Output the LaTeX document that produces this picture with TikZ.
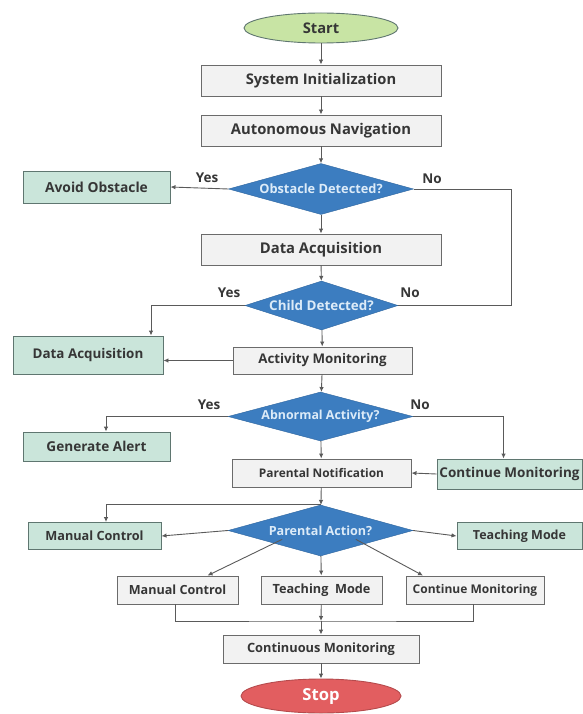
\documentclass[tikz,border=0pt]{standalone}
\usepackage{fontspec}
\setmainfont{Open Sans}
\usetikzlibrary{shapes.geometric,arrows.meta}

\definecolor{boxgray}{HTML}{F2F2F2}
\definecolor{edgegray}{HTML}{6B6B6B}
\definecolor{boxgreen}{HTML}{CAE5DA}
\definecolor{edgegreen}{HTML}{5F7670}
\definecolor{decblue}{HTML}{3C7DC0}
\definecolor{edgeblue}{HTML}{2E659E}
\definecolor{declight}{HTML}{DCEBF8}
\definecolor{startgreen}{HTML}{C8E4A4}
\definecolor{stopred}{HTML}{E25E60}
\definecolor{txtgray}{HTML}{363636}
\definecolor{linegray}{HTML}{5A5A5A}

\newcommand\boxfont[1]{\fontsize{#1}{#1}\selectfont\bfseries}

\tikzset{
  procbox/.style={draw=edgegray, fill=boxgray, line width=0.9pt, inner sep=0pt,
    minimum width=#1, text=txtgray},
  greenbox/.style={procbox=#1, draw=edgegreen, fill=boxgreen},
  decision/.style={diamond, aspect=3.6, draw=edgeblue, fill=decblue, inner sep=0pt,
    minimum width=#1, text=declight},
  terminal/.style={ellipse, inner sep=0pt, line width=0.9pt},
  answer/.style={font=\boxfont{13.5}, text=txtgray},
  arr/.style={draw=linegray, line width=0.9pt, -{Latex[length=5pt,width=4.5pt]}},
  line/.style={draw=linegray, line width=0.9pt}
}

\begin{document}
\begin{tikzpicture}[x=1pt,y=-1pt]
\useasboundingbox (0,0) rectangle (582,714);

\node[terminal, draw=edgegreen, fill=startgreen, text=txtgray, minimum width=154pt, minimum height=30pt, font=\boxfont{14.7}] (start) at (321,28) {Start};
\node[procbox=240pt, minimum height=31pt, font=\boxfont{14.7}] (init) at (321,80.5) {System Initialization};
\node[procbox=240pt, minimum height=31pt, font=\boxfont{14.8}] (nav) at (321,130.5) {Autonomous Navigation};
\node[decision=185pt, minimum height=51pt, font=\boxfont{12.8}] (obst) at (321,189) {Obstacle Detected?};
\node[greenbox=147pt, minimum height=32pt, font=\boxfont{13.8}] (avoid) at (96.5,187) {Avoid Obstacle};
\node[procbox=240pt, minimum height=31pt, font=\boxfont{14.8}] (daq) at (321,249.5) {Data Acquisition};
\node[decision=153pt, minimum height=49pt, font=\boxfont{13.4}] (child) at (321.5,305.5) {Child Detected?};
\node[greenbox=150pt, minimum height=38pt, font=\boxfont{13.4}] (daqg) at (88,355) {Data Acquisition};
\node[procbox=179pt, minimum height=27pt, font=\boxfont{13.3}] (act) at (322.5,360.5) {Activity Monitoring};
\node[decision=185pt, minimum height=49pt, font=\boxfont{12.4}] (abn) at (320.5,416.5) {Abnormal Activity?};
\node[greenbox=147pt, minimum height=29pt, font=\boxfont{13.6}] (alert) at (96.5,446.5) {Generate Alert};
\node[procbox=179pt, minimum height=28pt, font=\boxfont{11.9}] (notif) at (321.5,473) {Parental Notification};
\node[greenbox=145pt, minimum height=30pt, font=\boxfont{13.5}] (cont) at (509.5,474) {Continue Monitoring};
\node[decision=185pt, minimum height=51pt, font=\boxfont{12.6}] (pact) at (320.5,530.5) {Parental Action?};
\node[greenbox=133pt, minimum height=27pt, font=\boxfont{12.7}] (manu) at (94.5,536) {Manual Control};
\node[greenbox=125pt, minimum height=27pt, font=\boxfont{12.5}] (teach) at (519.5,536) {Teaching Mode};
\node[procbox=121pt, minimum height=28pt, font=\boxfont{12.6}] (man2) at (177.5,590) {Manual Control};
\node[procbox=121pt, minimum height=28pt, font=\boxfont{12.7}] (teach2) at (321.5,590) {Teaching\ \ Mode};
\node[procbox=138pt, minimum height=28pt, font=\boxfont{12}] (cont2) at (475,590) {Continue Monitoring};
\node[procbox=196pt, minimum height=28pt, font=\boxfont{12.8}] (cmon) at (321,649) {Continuous Monitoring};
\node[terminal, draw=stopred!80!black, fill=stopred, text=white, minimum width=160pt, minimum height=34pt, font=\boxfont{16.6}] (stop) at (321,696) {Stop};

\node[answer] (yes1) at (207,178) {Yes};
\node[answer] (no1) at (432,179) {No};
\node[answer] (yes2) at (229,293) {Yes};
\node[answer] (no2) at (410,293) {No};
\node[answer] (yes3) at (209,405) {Yes};
\node[answer] (no3) at (420,405) {No};

\coordinate (noline) at (511,0);
\coordinate (merge) at (321,621);

\foreach \a/\b in {start/init,init/nav,nav/obst,obst/daq,daq/child,child/act,act/abn,abn/notif,notif/pact,pact/teach2,cmon/stop}{
  \draw[arr] (\a) -- (\b);}

\draw[arr] (obst.west) -- (avoid.east);
\draw[line] (obst.east) -| (noline |- child.east) -- (child.east);
\draw[arr] (child.west) -| ([xshift=63pt]daqg.north);
\draw[arr] (act.west) -- (act.west -| daqg.east);
\draw[arr] (abn.west) -| ([xshift=9.5pt]alert.north);
\draw[arr] (abn.east) -| ([xshift=-6pt]cont.north);
\draw[arr] (cont.west) -- (notif.east);

\draw[arr] (pact.north) -| ([xshift=11.5pt]manu.north);
\draw[arr] (pact.west) -- (manu.east);
\draw[arr] (pact.east) -- (teach.west);
\draw[arr] ([shift={(8pt,4pt)}]pact.south west) -- ([xshift=30pt]man2.north);
\draw[arr] ([shift={(-11pt,4pt)}]pact.south east) -- ([xshift=-52pt]cont2.north);

\draw[line] ([xshift=-2.5pt]man2.south) |- (merge) -| ([xshift=-2pt]cont2.south);
\draw[arr] (teach2) -- (merge);
\draw[arr] (merge) -- (cmon);
\end{tikzpicture}
\end{document}
